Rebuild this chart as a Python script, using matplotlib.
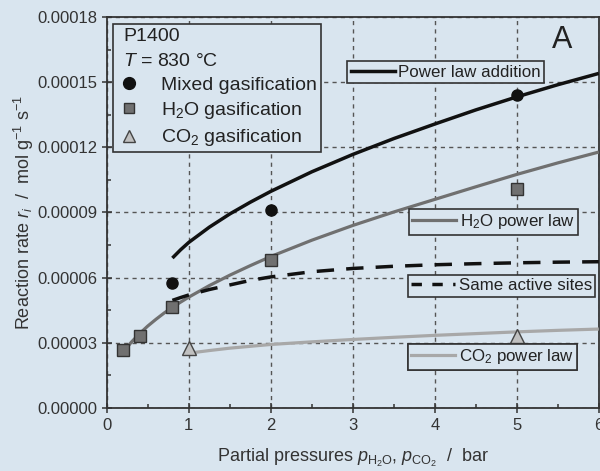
import matplotlib
matplotlib.use("Agg")
import matplotlib.pyplot as plt
from matplotlib.lines import Line2D
from matplotlib.ticker import MultipleLocator, FormatStrFormatter

plt.rcParams['font.family'] = ['Liberation Sans', 'DejaVu Sans']
plt.rcParams['mathtext.fontset'] = 'custom'
plt.rcParams['mathtext.rm'] = 'Liberation Sans'
plt.rcParams['mathtext.it'] = 'Liberation Sans:italic'

BG = '#d9e5ef'

# Measured points
mixed_x = [0.8, 2, 5]
mixed_y = [0.0000575, 0.000091, 0.000144]
h2o_x = [0.2, 0.4, 0.8, 2, 5]
h2o_y = [0.0000265, 0.000033, 0.0000465, 0.000068, 0.000101]
co2_x = [1, 5]
co2_y = [0.0000275, 0.000033]

# Model curves
add_x = [0.8, 0.9, 1.0, 1.25, 1.5, 1.75, 2.0, 2.5, 3.0, 3.5, 4.0, 4.5, 5.0, 5.5, 6.0]
add_y = [0.0000690, 0.0000728, 0.0000762, 0.0000832, 0.0000893, 0.0000947, 0.0000997,
         0.0001087, 0.0001167, 0.0001240, 0.0001307, 0.0001372, 0.0001432, 0.0001488,
         0.0001540]
h2ol_x = [0.2, 0.25, 0.3, 0.4, 0.5, 0.6, 0.7, 0.8, 0.9, 1.0, 1.25, 1.5, 1.75, 2.0, 2.5,
          3.0, 3.5, 4.0, 4.5, 5.0, 5.5, 6.0]
h2ol_y = [0.0000255, 0.0000280, 0.0000303, 0.0000342, 0.0000377, 0.0000408, 0.0000437,
          0.0000463, 0.0000487, 0.0000510, 0.0000563, 0.0000611, 0.0000655, 0.0000697,
          0.0000772, 0.0000840, 0.0000902, 0.0000960, 0.0001018, 0.0001075, 0.0001128,
          0.0001178]
co2l_x = [0.95, 1.0, 1.25, 1.5, 2.0, 2.5, 3.0, 3.5, 4.0, 4.5, 5.0, 5.5, 6.0]
co2l_y = [0.0000245, 0.0000252, 0.0000264, 0.0000275, 0.0000292, 0.0000304, 0.0000315,
          0.0000325, 0.0000334, 0.0000342, 0.0000350, 0.0000357, 0.0000363]
same_x = [0.8, 0.9, 1.0, 1.25, 1.5, 1.75, 2.0, 2.5, 3.0, 3.5, 4.0, 4.5, 5.0, 5.5, 6.0]
same_y = [0.0000495, 0.0000508, 0.0000520, 0.0000545, 0.0000566, 0.0000587, 0.0000603,
          0.0000627, 0.0000642, 0.0000652, 0.0000659, 0.0000664, 0.0000668, 0.0000671,
          0.0000673]

fig = plt.figure(figsize=(6.0, 4.71), dpi=100, facecolor=BG)
ax = fig.add_axes([0.178, 0.134, 0.820, 0.830], facecolor=BG)

ax.plot(add_x, add_y, color='#111111', lw=2.5, zorder=3, solid_capstyle='butt')
ax.plot(h2ol_x, h2ol_y, color='#707070', lw=2.3, zorder=3, solid_capstyle='butt')
ax.plot(co2l_x, co2l_y, color='#a8a8a8', lw=2.3, zorder=3, solid_capstyle='butt')
ax.plot(same_x, same_y, color='#111111', lw=2.5, dashes=(5, 3.5), zorder=3)

ax.plot(mixed_x, mixed_y, 'o', color='#111111', ms=8, zorder=4, ls='none')
ax.plot(h2o_x, h2o_y, 's', mfc='#707070', mec='#333333', mew=1.0, ms=8, zorder=4, ls='none')
ax.plot(co2_x, co2_y, '^', mfc='#c0c0c0', mec='#444444', mew=1.0, ms=9.5, zorder=4, ls='none')

ax.set_xlim(0, 6)
ax.set_ylim(0, 0.00018)
ax.xaxis.set_major_locator(MultipleLocator(1))
ax.xaxis.set_minor_locator(MultipleLocator(0.5))
ax.yaxis.set_major_locator(MultipleLocator(0.00003))
ax.yaxis.set_minor_locator(MultipleLocator(0.000015))
ax.yaxis.set_major_formatter(FormatStrFormatter('%.5f'))
ax.tick_params(which='major', direction='inout', length=7, width=1.1, colors='#333333',
               labelsize=12, labelcolor='#333333')
ax.tick_params(which='minor', direction='in', length=3, width=1.1, colors='#333333')
ax.tick_params(top=False, right=False)
for s in ax.spines.values():
    s.set_color('#333333')
    s.set_linewidth(1.3)

ax.grid(True, which='major', color='#555555', ls=(0, (3, 3)), lw=1.0)
ax.set_axisbelow(True)

ax.set_xlabel(r'Partial pressures $\mathit{p}_{\mathrm{H_2O}}$, $\mathit{p}_{\mathrm{CO_2}}$  /  bar',
              fontsize=13, color='#333333', labelpad=10)
ax.set_ylabel(r'Reaction rate $\mathit{r}_i$  /  mol g$^{-1}$ s$^{-1}$',
              fontsize=13, color='#333333', labelpad=1)

# Legend box with markers
h_mixed = Line2D([], [], marker='o', color='#111111', ls='none', ms=8.5)
h_h2o = Line2D([], [], marker='s', mfc='#707070', mec='#333333', ls='none', ms=7.5)
h_co2 = Line2D([], [], marker='^', mfc='#c0c0c0', mec='#444444', ls='none', ms=9)
h_blank = Line2D([], [], ls='none')
leg1 = ax.legend([h_blank, h_blank, h_mixed, h_h2o, h_co2],
                 ['P1400', r'$\mathit{T}$ = 830 °C', 'Mixed gasification',
                  r'H$_2$O gasification', r'CO$_2$ gasification'],
                 loc='upper left', bbox_to_anchor=(0.012, 0.982), fontsize=14,
                 frameon=True, fancybox=False, edgecolor='#333333', facecolor=BG,
                 framealpha=1, handlelength=1.3, handletextpad=1.0, borderpad=0.2,
                 labelspacing=0.33, borderaxespad=0)
leg1.get_frame().set_linewidth(1.2)
texts = leg1.get_texts()
texts[0].set_position((-38, 0))
texts[1].set_position((-38, 0))
for t in texts:
    t.set_color('#222222')
ax.add_artist(leg1)

def line_box(handle, label, x, y):
    lg = ax.legend([handle], [label], loc='upper left', bbox_to_anchor=(x, y),
                   fontsize=12.2, frameon=True, fancybox=False, edgecolor='#333333',
                   facecolor=BG, framealpha=1, handlelength=2.6, handletextpad=0.2,
                   borderpad=0.2, borderaxespad=0)
    lg.get_frame().set_linewidth(1.2)
    lg.get_texts()[0].set_color('#222222')
    ax.add_artist(lg)

line_box(Line2D([], [], color='#111111', lw=2.5), 'Power law addition', 0.489, 0.887)
line_box(Line2D([], [], color='#707070', lw=2.3), r'H$_2$O power law', 0.614, 0.509)
line_box(Line2D([], [], color='#111111', lw=2.5, dashes=(3, 3)), 'Same active sites', 0.612, 0.340)
line_box(Line2D([], [], color='#a8a8a8', lw=2.3), r'CO$_2$ power law', 0.612, 0.164)

ax.text(0.925, 0.94, 'A', transform=ax.transAxes, fontsize=22, color='#222222',
        ha='center', va='center')

fig.savefig('out.png', dpi=100, facecolor=BG)
